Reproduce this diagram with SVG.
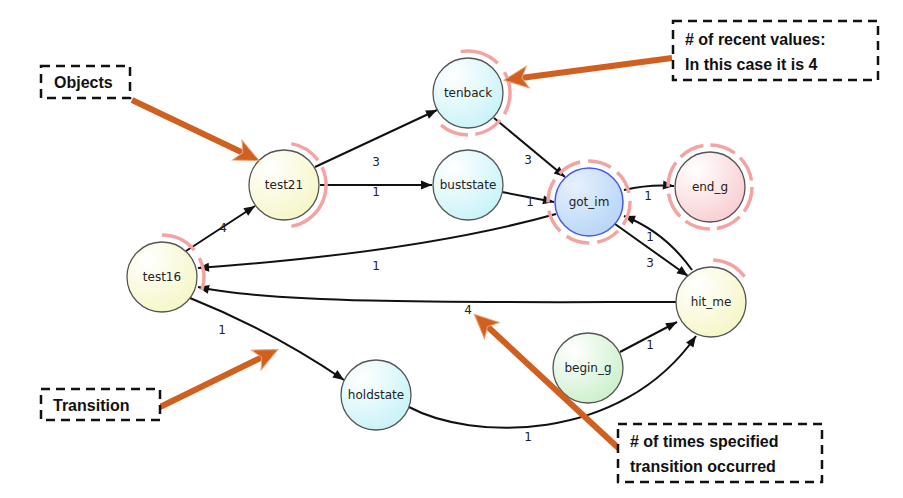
<svg xmlns="http://www.w3.org/2000/svg" width="903" height="498" viewBox="0 0 903 498">
<style>
.node{stroke:#555;stroke-width:1.3}
.lbl{font-family:"DejaVu Sans",sans-serif;font-size:12px;fill:#222;text-anchor:middle}
.e{fill:none;stroke:#111;stroke-width:2}
.el{font-family:"DejaVu Sans",sans-serif;font-size:12px;fill:#222;text-anchor:middle}
.ring{fill:none;stroke:#f4a3a3;stroke-width:3.5}
.box{fill:#fff;stroke:#111;stroke-width:2.5;stroke-dasharray:9 6}
.ct{font-family:"Liberation Sans",Arial,sans-serif;font-size:16px;font-weight:bold;fill:#111}
.oa{stroke:#cf6020;stroke-width:6;fill:none}
</style>
<defs>
<marker id="ah" markerUnits="userSpaceOnUse" overflow="visible" orient="auto" refX="0" refY="0" markerWidth="12" markerHeight="12">
<path d="M0,0 L-11,-4.5 L-11,4.5 Z" fill="#111"/>
</marker>
<marker id="oh" markerUnits="userSpaceOnUse" overflow="visible" orient="auto" refX="0" refY="0" markerWidth="20" markerHeight="20">
<path d="M15,0 L-9,-11 L-3,0 L-9,11 Z" fill="#cf6020" stroke="#e9a27a" stroke-width="1"/>
</marker>
<radialGradient id="gc" cx="30%" cy="25%" r="80%"><stop offset="0" stop-color="#ffffff"/><stop offset="1" stop-color="#c9f3f8"/></radialGradient>
<radialGradient id="gy" cx="30%" cy="25%" r="80%"><stop offset="0" stop-color="#ffffff"/><stop offset="1" stop-color="#f6f6c8"/></radialGradient>
<radialGradient id="gb" cx="30%" cy="25%" r="80%"><stop offset="0" stop-color="#e6f1fd"/><stop offset="1" stop-color="#b8d6f6"/></radialGradient>
<radialGradient id="gp" cx="30%" cy="25%" r="80%"><stop offset="0" stop-color="#ffffff"/><stop offset="1" stop-color="#f8cfd2"/></radialGradient>
<radialGradient id="gg" cx="30%" cy="25%" r="80%"><stop offset="0" stop-color="#ffffff"/><stop offset="1" stop-color="#cdf0cd"/></radialGradient>
</defs>
<rect width="903" height="498" fill="#fff"/>

<g id="connectors">
<path class="e" d="M186,251 L255,206" marker-end="url(#ah)"/>
<path class="e" d="M315,167 L437,110" marker-end="url(#ah)"/>
<path class="e" d="M320,185 L432,185" marker-end="url(#ah)"/>
<path class="e" d="M494,118 L565,177" marker-end="url(#ah)"/>
<path class="e" d="M502,192 L554,202" marker-end="url(#ah)"/>
<path class="e" d="M624,190 Q650,184 674,186" marker-end="url(#ah)"/>
<path class="e" d="M556,214 Q420,252 198,268" marker-end="url(#ah)"/>
<path class="e" d="M676,302 C500,302 280,305 198,287" marker-end="url(#ah)"/>
<path class="e" d="M615,224 L688,276" marker-end="url(#ah)"/>
<path class="e" d="M692,270 Q665,232 624,216" marker-end="url(#ah)"/>
<path class="e" d="M190,298 Q270,330 344,380" marker-end="url(#ah)"/>
<path class="e" d="M620,352 L677,322" marker-end="url(#ah)"/>
<path class="e" d="M409,407 C470,440 620,445 696,336" marker-end="url(#ah)"/>
<text class="el" x="223" y="232">4</text>
<text class="el" x="376" y="166">3</text>
<text class="el" x="376" y="196">1</text>
<text class="el" x="528" y="164">3</text>
<text class="el" x="530" y="206">1</text>
<text class="el" x="648" y="200">1</text>
<text class="el" x="376" y="270">1</text>
<text class="el" x="468" y="314">4</text>
<text class="el" x="650" y="267">3</text>
<text class="el" x="650" y="241">1</text>
<text class="el" x="222" y="334">1</text>
<text class="el" x="650" y="349">1</text>
<text class="el" x="528" y="441">1</text>
</g>

<g id="rings">
<path class="ring" d="M460.7,51.6 A42,42 0 0 1 497.7,63.3"/>
<path class="ring" d="M504.4,72 A42,42 0 0 1 504.4,114"/>
<path class="ring" d="M500.2,120 A42,42 0 0 1 475.3,134.4"/>
<path class="ring" d="M468,135 A42,42 0 0 1 441,125.2"/>
<circle class="ring" cx="589" cy="202" r="41" stroke-dasharray="24 8"/>
<circle class="ring" cx="710" cy="187" r="42" stroke-dasharray="26 7"/>
<path class="ring" d="M291.3,143.6 A42,42 0 0 1 318,160.3"/>
<path class="ring" d="M322.1,167.2 A42,42 0 0 1 291.3,226.4"/>
<path class="ring" d="M162,235 A42,42 0 0 1 194.2,250"/>
<path class="ring" d="M199.4,258 A42,42 0 0 1 201.9,290"/>
<path class="ring" d="M713.2,260.1 A42,42 0 0 1 744.5,276.7"/>
</g>

<g id="tenback"><circle class="node" cx="468" cy="93" r="35" fill="url(#gc)"/><text class="lbl" x="468" y="97">tenback</text></g>
<g id="test21"><circle class="node" cx="284" cy="185" r="35" fill="url(#gy)"/><text class="lbl" x="284" y="189">test21</text></g>
<g id="buststate"><circle class="node" cx="468" cy="185" r="35" fill="url(#gc)"/><text class="lbl" x="468" y="189">buststate</text></g>
<g id="got_im"><circle cx="589" cy="202" r="34" fill="url(#gb)" stroke="#4a58e8" stroke-width="1.5"/><text class="lbl" x="589" y="206">got_im</text></g>
<g id="end_g"><circle class="node" cx="710" cy="187" r="35" fill="url(#gp)"/><text class="lbl" x="710" y="191">end_g</text></g>
<g id="test16"><circle class="node" cx="162" cy="277" r="35" fill="url(#gy)"/><text class="lbl" x="162" y="281">test16</text></g>
<g id="hit_me"><circle class="node" cx="711" cy="302" r="35" fill="url(#gy)"/><text class="lbl" x="711" y="306">hit_me</text></g>
<g id="holdstate"><circle class="node" cx="376" cy="395" r="35" fill="url(#gc)"/><text class="lbl" x="376" y="399">holdstate</text></g>
<g id="begin_g"><circle class="node" cx="588" cy="368" r="35" fill="url(#gg)"/><text class="lbl" x="588" y="372">begin_g</text></g>

<g id="callouts">
<line class="oa" x1="132" y1="100" x2="245.4" y2="154" marker-end="url(#oh)"/>
<line class="oa" x1="672" y1="58" x2="518.9" y2="78.2" marker-end="url(#oh)"/>
<line class="oa" x1="160" y1="407" x2="264.4" y2="356.1" marker-end="url(#oh)"/>
<line class="oa" x1="627" y1="456" x2="485.3" y2="324.5" marker-end="url(#oh)"/>
</g>
<g id="box-objects"><rect class="box" x="41" y="66" width="89" height="32"/><text class="ct" x="54" y="88">Objects</text></g>
<g id="box-recent"><rect class="box" x="673" y="21" width="205" height="59"/><text class="ct" x="685" y="45"># of recent values:</text><text class="ct" x="685" y="70">In this case it is 4</text></g>
<g id="box-transition"><rect class="box" x="41" y="389" width="119" height="31"/><text class="ct" x="53" y="411">Transition</text></g>
<g id="box-times"><rect class="box" x="618" y="424" width="204" height="58"/><text class="ct" x="630" y="447"># of times specified</text><text class="ct" x="630" y="472">transition occurred</text></g>
</svg>
